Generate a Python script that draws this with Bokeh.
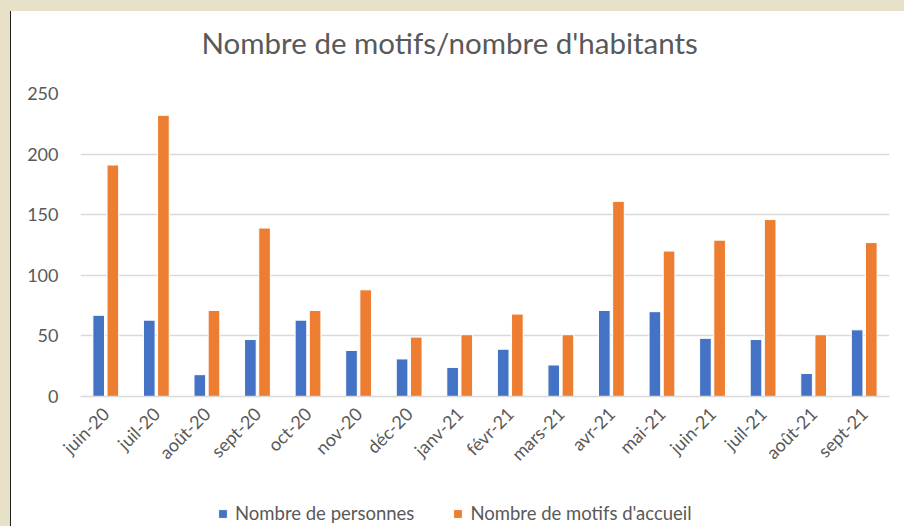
import math
from bokeh.plotting import figure
from bokeh.layouts import column
from bokeh.models import Legend, LegendItem, FactorRange, Range1d, ColumnDataSource, Label
from bokeh.transform import dodge
from bokeh.embed import file_html
from bokeh.resources import INLINE

months = ["juin-20", "juil-20", "août-20", "sept-20", "oct-20", "nov-20", "déc-20", "janv-21",
          "févr-21", "mars-21", "avr-21", "mai-21", "juin-21", "juil-21", "août-21", "sept-21"]
personnes = [67, 63, 18, 47, 63, 38, 31, 24, 39, 26, 71, 70, 48, 47, 19, 55]
motifs = [191, 232, 71, 139, 71, 88, 49, 51, 68, 51, 161, 120, 129, 146, 51, 127]
y_ticks = [0, 50, 100, 150, 200, 250]

title_text = "Nombre de motifs/nombre d'habitants"
label_personnes = "Nombre de personnes"
label_motifs = "Nombre de motifs d'accueil"

BLUE = "#4472C4"
ORANGE = "#ED7D31"
GREY_TXT = "#595959"
GRID = "#D9D9D9"
BEIGE = "#E7E1C8"
FONT = "Lato"
W = 894
EDGE = {"border-left": "1px solid #222222", "background-color": "white"}


def blank_fig(height):
    f = figure(width=W, height=height, x_range=Range1d(0, W), y_range=Range1d(0, height),
               output_backend="svg", toolbar_location=None, title=None,
               x_axis_type=None, y_axis_type=None,
               min_border_left=0, min_border_right=0, min_border_top=0, min_border_bottom=0)
    f.outline_line_color = None
    f.grid.visible = False
    f.background_fill_color = "white"
    f.border_fill_color = "white"
    f.styles = EDGE
    return f


# ---- title strip ----
tfig = blank_fig(72)
tfig.add_layout(Label(x=408, y=41, text=title_text, text_align="center", text_baseline="alphabetic",
                      text_color=GREY_TXT, text_font=FONT, text_font_size="29.5px"))

# ---- main chart ----
source = ColumnDataSource(dict(month=months, personnes=personnes, motifs=motifs))

p = figure(width=W, height=392, x_range=FactorRange(*months), y_range=Range1d(0, 250),
           output_backend="svg", toolbar_location=None, title=None,
           min_border_left=69, min_border_right=16, min_border_top=10, min_border_bottom=76)
p.outline_line_color = None
p.background_fill_color = "white"
p.border_fill_color = "white"
p.styles = EDGE

p.vbar(x=dodge("month", -0.14, range=p.x_range), top="personnes", width=0.23, source=source,
       fill_color=BLUE, line_color="white", line_width=1)
p.vbar(x=dodge("month", 0.14, range=p.x_range), top="motifs", width=0.23, source=source,
       fill_color=ORANGE, line_color="white", line_width=1)

p.xgrid.grid_line_color = None
p.ygrid.grid_line_color = GRID
p.ygrid.grid_line_width = 1.3
p.yaxis.ticker = y_ticks

p.yaxis.axis_line_color = None
p.yaxis.major_tick_line_color = None
p.yaxis.minor_tick_line_color = None
p.yaxis.major_label_standoff = 16
p.yaxis.major_label_text_color = GREY_TXT
p.yaxis.major_label_text_font = FONT
p.yaxis.major_label_text_font_size = "18px"

p.xaxis.axis_line_color = GRID
p.xaxis.axis_line_width = 1.3
p.xaxis.major_tick_line_color = None
p.xaxis.minor_tick_line_color = None
p.xaxis.major_label_orientation = math.pi / 4
p.xaxis.major_label_standoff = 8
p.xaxis.major_label_text_color = GREY_TXT
p.xaxis.major_label_text_font = FONT
p.xaxis.major_label_text_font_size = "18px"

# ---- legend strip (legend keys are off-screen proxies carrying the series colours) ----
lfig = blank_fig(51)
k1 = lfig.vbar(x=[-1000], top=[1], width=1, fill_color=BLUE, line_color="white")
k2 = lfig.vbar(x=[-1000], top=[1], width=1, fill_color=ORANGE, line_color="white")
legend = Legend(items=[LegendItem(label=label_personnes, renderers=[k1]),
                       LegendItem(label=label_motifs, renderers=[k2])],
                orientation="horizontal", location=(137, 2),
                border_line_color=None, background_fill_alpha=0, padding=0, margin=0,
                spacing=38, glyph_width=11, glyph_height=11, label_standoff=7,
                label_text_font=FONT, label_text_font_size="18.5px", label_text_color=GREY_TXT)
lfig.add_layout(legend)

layout = column(tfig, p, lfig, spacing=0,
                styles={"background-color": BEIGE, "padding": "11px 0 0 10px"})

html = file_html(layout, INLINE)
html = html.replace("<body>", '<body style="margin:0; background:%s; overflow:hidden;">' % BEIGE, 1)
open("out.html", "w").write(html)
